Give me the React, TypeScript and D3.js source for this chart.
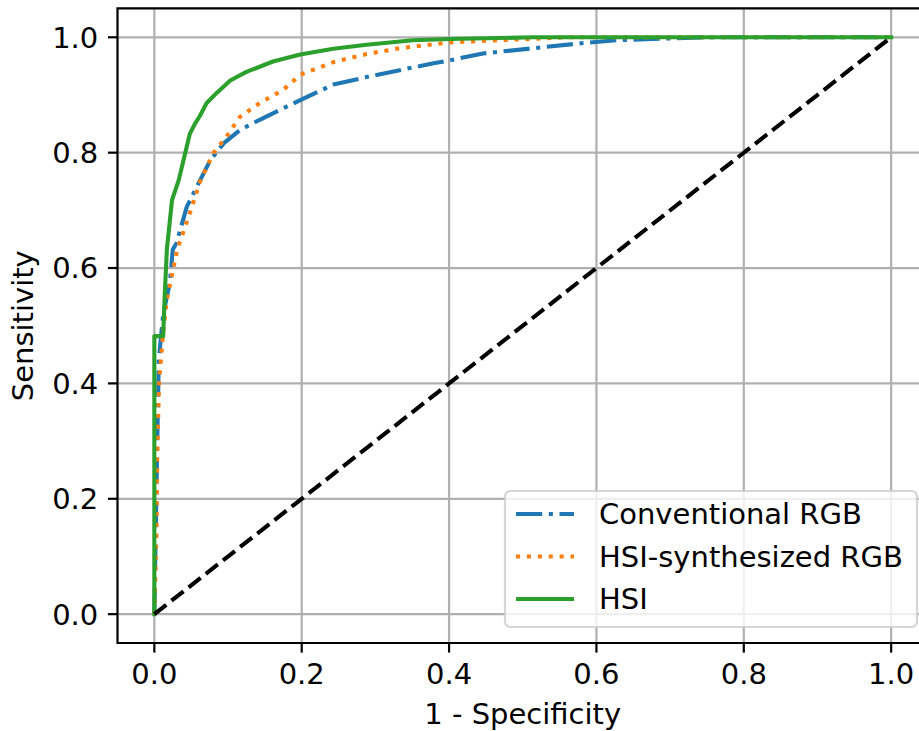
import React, { useEffect, useRef } from 'react';
import * as d3 from 'd3';

// ROC points: [1 - specificity, sensitivity]
const conventionalRGB: [number, number][] = [
  [0, 0], [0.002, 0.15], [0.004, 0.3], [0.006, 0.44], [0.012, 0.52], [0.021, 0.574],
  [0.025, 0.632], [0.03, 0.643], [0.044, 0.706], [0.06, 0.747], [0.076, 0.787],
  [0.094, 0.816], [0.116, 0.839], [0.143, 0.857], [0.175, 0.877], [0.198, 0.891],
  [0.243, 0.918], [0.288, 0.931], [0.333, 0.943], [0.379, 0.955], [0.401, 0.96],
  [0.446, 0.972], [0.514, 0.981], [0.582, 0.99], [0.627, 0.995], [0.7, 0.998],
  [0.75, 1.0], [1.0, 1.0],
];

const hsiSynthRGB: [number, number][] = [
  [0, 0], [0.003, 0.15], [0.004, 0.28], [0.0064, 0.4], [0.012, 0.49], [0.017, 0.545],
  [0.031, 0.632], [0.037, 0.654], [0.051, 0.706], [0.062, 0.75], [0.08, 0.799],
  [0.098, 0.828], [0.116, 0.862], [0.143, 0.886], [0.175, 0.909], [0.198, 0.935],
  [0.243, 0.957], [0.288, 0.971], [0.333, 0.981], [0.401, 0.991], [0.469, 0.995],
  [0.56, 1.0], [1.0, 1.0],
];

const hsi: [number, number][] = [
  [0, 0], [0, 0.482], [0.012, 0.482], [0.014, 0.55], [0.017, 0.632], [0.024, 0.718],
  [0.033, 0.752], [0.042, 0.8], [0.048, 0.832], [0.055, 0.85], [0.062, 0.864], [0.071, 0.886],
  [0.085, 0.904], [0.103, 0.925], [0.125, 0.94], [0.161, 0.958], [0.198, 0.97],
  [0.243, 0.98], [0.288, 0.987], [0.351, 0.995], [0.401, 0.997], [0.515, 1.0], [1.0, 1.0],
];

const chance: [number, number][] = [[0, 0], [1, 1]];

const ticks = [0, 0.2, 0.4, 0.6, 0.8, 1.0];

const seriesList = [
  { name: 'Conventional RGB', data: conventionalRGB, color: '#1f77b4', dash: '26.2,6.6,4.1,6.6' },
  { name: 'HSI-synthesized RGB', data: hsiSynthRGB, color: '#ff7f0e', dash: '4.1,6.8' },
  { name: 'HSI', data: hsi, color: '#2ca02c', dash: null },
];

export default function App() {
  const ref = useRef<SVGSVGElement | null>(null);

  useEffect(() => {
    document.body.style.margin = '0';
    const svg = d3.select(ref.current);
    svg.selectAll('*').remove();

    const W = 919, H = 731;
    const left = 117.5, right = 928, top = 8.45, bottom = 643;
    const font = 'DejaVu Sans, sans-serif';
    const fs = 29;
    const lw = 4.1;

    const x = d3.scaleLinear().domain([-0.05, 1.05]).range([left, right]);
    const y = d3.scaleLinear().domain([-0.05, 1.05]).range([bottom, top]);

    svg.append('rect').attr('width', W).attr('height', H).attr('fill', '#fff');

    svg.append('defs').append('clipPath').attr('id', 'plotclip')
      .append('rect').attr('x', left).attr('y', top).attr('width', right - left).attr('height', bottom - top);

    // grid
    const grid = svg.append('g').attr('stroke', '#b0b0b0').attr('stroke-width', 2.2);
    ticks.forEach(t => {
      grid.append('line').attr('x1', x(t)).attr('x2', x(t)).attr('y1', top).attr('y2', bottom);
      grid.append('line').attr('x1', left).attr('x2', right).attr('y1', y(t)).attr('y2', y(t));
    });

    const line = d3.line<[number, number]>().x(d => x(d[0])).y(d => y(d[1]));
    const plot = svg.append('g').attr('clip-path', 'url(#plotclip)');

    seriesList.forEach(s => {
      plot.append('path')
        .attr('d', line(s.data))
        .attr('fill', 'none')
        .attr('stroke', s.color)
        .attr('stroke-width', lw)
        .attr('stroke-linejoin', 'round')
        .attr('stroke-dasharray', s.dash)
        .attr('stroke-linecap', s.dash ? 'butt' : 'square');
    });

    plot.append('path')
      .attr('d', line(chance))
      .attr('fill', 'none')
      .attr('stroke', '#000')
      .attr('stroke-width', lw)
      .attr('stroke-dasharray', '15.2,6.6');

    // spines
    const sp = svg.append('g').attr('stroke', '#000').attr('stroke-width', 2.2).attr('fill', 'none');
    sp.append('path').attr('d', `M${right},${top}H${left}V${bottom}H${right}`).attr('stroke-linecap', 'square');

    // ticks
    const tk = 9.6, pad = 9.6;
    ticks.forEach(t => {
      sp.append('line').attr('x1', x(t)).attr('x2', x(t)).attr('y1', bottom).attr('y2', bottom + tk);
      sp.append('line').attr('x1', left).attr('x2', left - tk).attr('y1', y(t)).attr('y2', y(t));
      svg.append('text').attr('x', x(t)).attr('y', bottom + tk + pad + fs * 0.74)
        .attr('text-anchor', 'middle').attr('font-family', font).attr('font-size', fs)
        .text(d3.format('.1f')(t));
      svg.append('text').attr('x', left - tk - pad).attr('y', y(t) + fs * 0.36)
        .attr('text-anchor', 'end').attr('font-family', font).attr('font-size', fs)
        .text(d3.format('.1f')(t));
    });

    svg.append('text').attr('x', (left + right) / 2).attr('y', 724)
      .attr('text-anchor', 'middle').attr('font-family', font).attr('font-size', fs)
      .text('1 - Specificity');
    svg.append('text').attr('transform', `translate(33,${(top + bottom) / 2}) rotate(-90)`)
      .attr('text-anchor', 'middle').attr('font-family', font).attr('font-size', fs)
      .text('Sensitivity');

    // legend
    const lg = svg.append('g');
    lg.append('rect').attr('x', 505).attr('y', 491).attr('width', 412).attr('height', 136)
      .attr('rx', 5.5).attr('fill', 'rgba(255,255,255,0.8)')
      .attr('stroke', 'rgba(204,204,204,0.8)').attr('stroke-width', 2.2);
    seriesList.forEach((s, i) => {
      const cy = 514 + i * 42.5;
      lg.append('line').attr('x1', 516).attr('x2', 574).attr('y1', cy).attr('y2', cy)
        .attr('stroke', s.color).attr('stroke-width', lw)
        .attr('stroke-dasharray', s.dash);
      lg.append('text').attr('x', 599).attr('y', cy + fs * 0.36)
        .attr('font-family', font).attr('font-size', fs).text(s.name);
    });
  }, []);

  return <svg ref={ref} width={919} height={731} style={{ display: 'block' }} />;
}
